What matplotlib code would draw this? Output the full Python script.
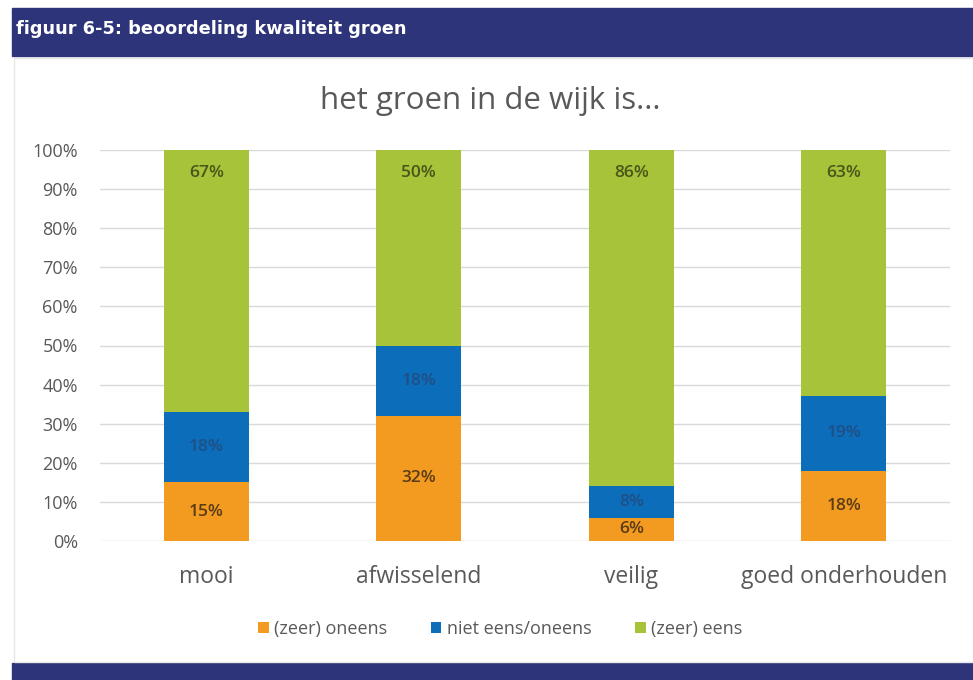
import matplotlib.pyplot as plt
from matplotlib.patches import Rectangle
import numpy as np

categories = ['mooi', 'afwisselend', 'veilig', 'goed onderhouden']
oneens = [15, 32, 6, 18]
neutraal = [18, 18, 8, 19]
eens = [67, 50, 86, 63]
series_names = ['(zeer) oneens', 'niet eens/oneens', '(zeer) eens']
yticks = [0, 10, 20, 30, 40, 50, 60, 70, 80, 90, 100]

colors = ['#F39A21', '#0C6DBA', '#A6C33A']
label_colors = ['#5a3c14', '#1f4f84', '#48561a']

W, H = 973, 680
fig = plt.figure(figsize=(W / 100, H / 100), dpi=100)
plt.rcParams['font.family'] = ['Open Sans', 'DejaVu Sans']

# navy header and footer bands
fig.patches.append(Rectangle((12 / W, 1 - 56 / H), 1, 48 / H,
                             transform=fig.transFigure, color='#2D3479', zorder=0))
fig.patches.append(Rectangle((12 / W, 0), 1, 17 / H,
                             transform=fig.transFigure, color='#2D3479', zorder=0))
fig.patches.append(Rectangle((14 / W, 18 / H), 1, (H - 76) / H, transform=fig.transFigure,
                             fill=False, edgecolor='#e6e6e6', lw=1, zorder=0))
fig.text(16 / W, 1 - 29 / H, 'figuur 6-5: beoordeling kwaliteit groen', color='white',
         fontsize=12.8, fontweight='bold', family='DejaVu Sans', va='center', ha='left')

ax = fig.add_axes([100 / W, 1 - 541 / H, 850 / W, 391 / H])
x = np.arange(len(categories))
bottom = np.zeros(len(categories))
for vals, col, lcol, name in zip([oneens, neutraal, eens], colors, label_colors, series_names):
    vals = np.array(vals, dtype=float)
    ax.bar(x, vals, width=0.4, bottom=bottom, color=col, label=name, zorder=3)
    for xi, b, v in zip(x, bottom, vals):
        if name == '(zeer) eens':
            ypos = 100 - 6
        else:
            ypos = b + v / 2
        ax.text(xi, ypos, f'{int(v)}%', ha='center', va='center', fontsize=12.5,
                fontweight='semibold', color=lcol, zorder=4)
    bottom += vals

ax.set_xlim(-0.5, 3.5)
ax.set_ylim(0, 100)
ax.set_yticks(yticks)
ax.set_yticklabels([f'{t}%' for t in yticks], fontsize=13, color='#595959')
ax.set_xticks(x)
ax.set_xticklabels(categories, fontsize=16.5, color='#595959')
ax.tick_params(axis='both', length=0)
ax.tick_params(axis='y', pad=16)
ax.tick_params(axis='x', pad=17)
ax.grid(axis='y', color='#d9d9d9', lw=1, zorder=0)
for s in ax.spines.values():
    s.set_visible(False)

fig.text(490 / W, 1 - 101 / H, 'het groen in de wijk is...', ha='center', va='center',
         fontsize=22.5, color='#595959')

fig.legend(loc='center', bbox_to_anchor=(500 / W, 1 - 629 / H), ncol=3, frameon=False,
           fontsize=13, handlelength=0.6, handleheight=0.6, handletextpad=0.3,
           columnspacing=2.4, labelcolor='#595959')

fig.savefig('out.png', dpi=100, facecolor='white')
